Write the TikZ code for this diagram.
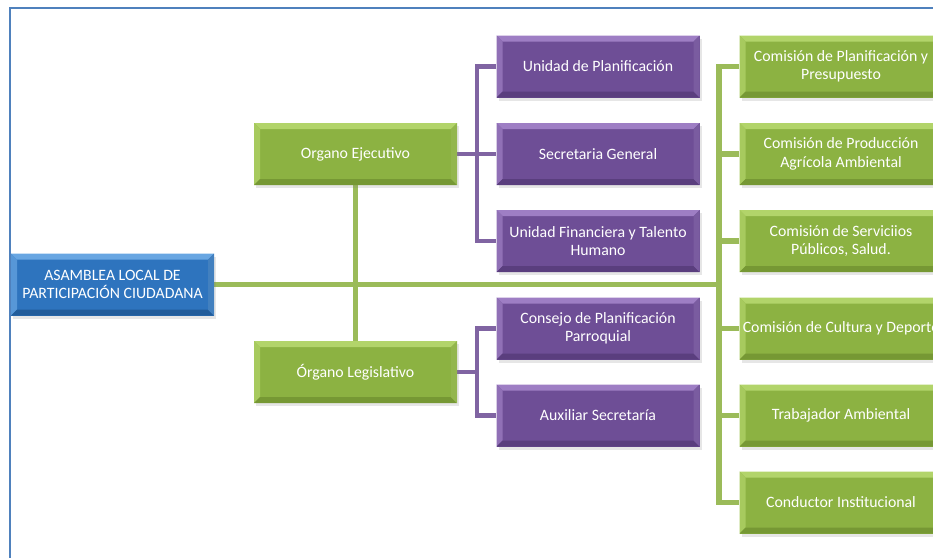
\documentclass[tikz,border=0pt]{standalone}
\usepackage{fontspec}
\setmainfont{Carlito}
\usepackage{tikz}
\usetikzlibrary{calc,positioning,shadows,backgrounds}
\definecolor{gmain}{RGB}{140,178,66}
\definecolor{glight}{RGB}{178,212,106}
\definecolor{gdark}{RGB}{118,152,52}
\definecolor{pmain}{RGB}{110,78,150}
\definecolor{plight}{RGB}{158,126,196}
\definecolor{pdark}{RGB}{90,62,126}
\definecolor{bmain}{RGB}{46,116,190}
\definecolor{blight}{RGB}{104,166,226}
\definecolor{bdark}{RGB}{34,92,154}
\definecolor{frameblue}{RGB}{79,129,189}
\definecolor{glinec}{RGB}{155,187,89}
\definecolor{plinec}{RGB}{128,100,162}
% bevel faces of a box
\newcommand{\bevelfaces}[3]{%
  \def\bw{6pt}%
  \fill[#1] (path picture bounding box.north west) -- (path picture bounding box.north east)
    -- ([xshift=-\bw,yshift=-\bw]path picture bounding box.north east)
    -- ([xshift=\bw,yshift=-\bw]path picture bounding box.north west) -- cycle;
  \fill[#2] (path picture bounding box.north west) -- ([xshift=\bw,yshift=-\bw]path picture bounding box.north west)
    -- ([xshift=\bw,yshift=\bw]path picture bounding box.south west)
    -- (path picture bounding box.south west) -- cycle;
  \fill[#3] (path picture bounding box.south west) -- (path picture bounding box.south east)
    -- ([xshift=-\bw,yshift=\bw]path picture bounding box.south east)
    -- ([xshift=\bw,yshift=\bw]path picture bounding box.south west) -- cycle;
  \fill[#2!60!#3] (path picture bounding box.north east) -- ([xshift=-\bw,yshift=-\bw]path picture bounding box.north east)
    -- ([xshift=-\bw,yshift=\bw]path picture bounding box.south east)
    -- (path picture bounding box.south east) -- cycle;
}
\begin{document}
\begin{tikzpicture}[x=1pt, y=-1pt,
    unit/.style={minimum width=203pt, minimum height=62pt, inner sep=0pt, align=center,
      text=white, font=\fontsize{15.8}{18.5}\selectfont,
      drop shadow={shadow xshift=2pt, shadow yshift=-3pt, opacity=0.2}},
    greenbox/.style={unit, fill=gmain, path picture={\bevelfaces{glight}{glight!70!gmain}{gdark}}},
    purplebox/.style={unit, fill=pmain, path picture={\bevelfaces{plight}{plight!70!pmain}{pdark}}},
    bluebox/.style={unit, fill=bmain, path picture={\bevelfaces{blight}{blight!70!bmain}{bdark}}},
    gline/.style={line width=5.5pt, glinec},
    pline/.style={line width=4.5pt, plinec}]
  \useasboundingbox (0,0) rectangle (933,557);
  \begin{scope}
  \clip (0,0) rectangle (933,557);
  % outer frame
  \draw[frameblue, line width=2pt] (10,572) -- (10,8) -- (950,8);
  % trunk positions
  \coordinate (rtrunk) at (719,0);
  \coordinate (ptrunk) at (477,0);
  % Boxes
  \node[bluebox] (asamblea) at (112.5,284.5) {ASAMBLEA LOCAL DE\\PARTICIPACIÓN CIUDADANA};
  \node[greenbox] (ejecutivo) at (355.5,154) {Organo Ejecutivo};
  \node[greenbox] (legislativo) at (355.5,372) {Órgano Legislativo};
  % purple units
  \node[purplebox] (planif) at (598,66.5) {Unidad de Planificación};
  \node[purplebox] (secgen) at (598,154) {Secretaria General};
  \node[purplebox] (financ) at (598,241) {Unidad Financiera y Talento\\Humano};
  \node[purplebox] (consejo) at (598,328.5) {Consejo de Planificación\\Parroquial};
  \node[purplebox] (auxsec) at (598,415.5) {Auxiliar Secretaría};
  % commissions
  \node[greenbox] (com1) at (841,66.5) {Comisión de Planificación y\\Presupuesto};
  \node[greenbox] (com2) at (841,154) {Comisión de Producción\\Agrícola Ambiental};
  \node[greenbox] (com3) at (841,241) {Comisión de Serviciios\\Públicos, Salud.};
  \node[greenbox] (com4) at (841,328.5) {Comisión de Cultura y Deporte};
  \node[greenbox] (com5) at (841,415.5) {Trabajador Ambiental};
  \node[greenbox] (com6) at (841,502.5) {Conductor Institucional};
  % Connectors
  \begin{scope}[on background layer]
    \draw[gline] (asamblea) -- (asamblea -| rtrunk);
    \draw[gline] (ejecutivo) -- (legislativo);
    \draw[gline] (com1) -| (rtrunk |- com6) -- (com6);
    \foreach \c in {com2,com3,com4,com5} {
      \draw[gline] (\c) -- (\c -| rtrunk);
    }
    \draw[pline] (planif) -| (ptrunk |- financ) -- (financ);
    \draw[pline] (ejecutivo) -- (secgen);
    \draw[pline] (consejo) -| (ptrunk |- auxsec) -- (auxsec);
    \draw[pline] (legislativo) -- (legislativo -| ptrunk);
  \end{scope}
  \end{scope}
\end{tikzpicture}
\end{document}
